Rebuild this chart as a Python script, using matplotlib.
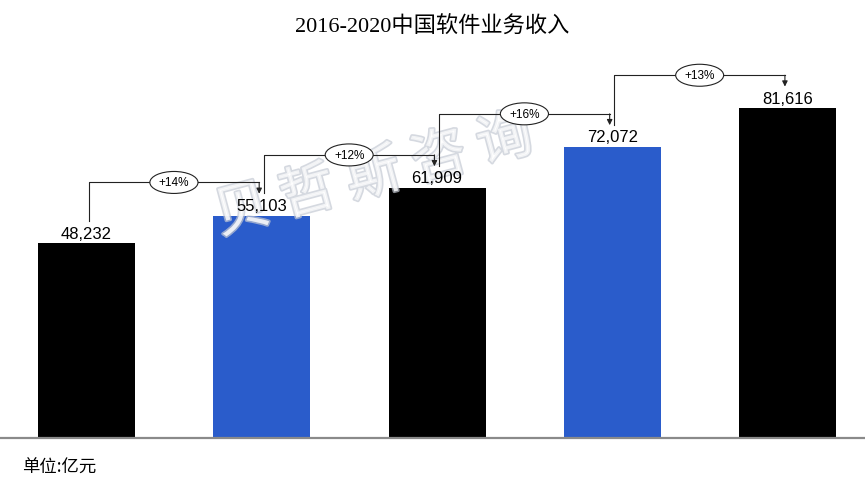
import matplotlib
matplotlib.use('Agg')
import matplotlib.pyplot as plt
import matplotlib.patheffects as pe
import numpy as np

plt.rcParams['font.family'] = ['Liberation Sans', 'Noto Sans CJK SC', 'DejaVu Sans']

# 数据
years = ['2016', '2017', '2018', '2019', '2020']
revenue = [48232, 55103, 61909, 72072, 81616]   # 亿元
colors = ['#000000', '#2a5ccb', '#000000', '#2a5ccb', '#000000']

fig = plt.figure(figsize=(8.65, 4.85), dpi=100)
ax = fig.add_axes([0, 0.094, 1, 0.782])

x = np.arange(len(years))
ax.bar(x, revenue, width=0.553, color=colors, zorder=2)
ax.set_xlim(-0.494, 4.442)
ax.set_ylim(0, 93800)

# 数值标签
for xi, v in zip(x, revenue):
    ax.text(xi, v + 700, f'{v:,}', ha='center', va='bottom', fontsize=12, zorder=4)

# 增长率括号
lc = '#222222'
for i in range(len(revenue) - 1):
    v0, v1 = revenue[i], revenue[i + 1]
    growth = round((v1 / v0 - 1) * 100)
    x0, x1 = x[i] + 0.012, x[i + 1] - 0.015
    y_top = max(v0, v1) + 8200
    y_start = v0 + 5500
    y_tip = v1 + 5400
    ax.plot([x0, x0, x1], [y_start, y_top, y_top], color=lc, lw=0.8, zorder=4)
    ax.annotate('', xy=(x1, y_tip), xytext=(x1, y_top),
                arrowprops=dict(arrowstyle='-|>', color=lc, lw=0.8,
                                mutation_scale=8, shrinkA=0, shrinkB=0),
                zorder=4)
    ax.text((x0 + x1) / 2, y_top, f'+{growth}%', ha='center', va='center',
            fontsize=8.5, zorder=5,
            bbox=dict(boxstyle='ellipse,pad=0.15', fc='white', ec=lc, lw=0.8))

# 坐标轴样式
for s in ['top', 'right', 'left']:
    ax.spines[s].set_visible(False)
ax.spines['bottom'].set_color('#8a8a8a')
ax.spines['bottom'].set_linewidth(1.6)
ax.set_xticks([])
ax.set_yticks([])

# 水印
ax.text(0.432, 0.635, '贝 哲 斯 咨 询', fontsize=40, color='white',
        ha='center', va='center', rotation=15, zorder=3,
        transform=fig.transFigure, family=['Noto Sans CJK SC'],
        alpha=0.7,
        path_effects=[pe.withStroke(linewidth=2.4, foreground='#c4c9d3')])

fig.text(0.5, 1 - 27 / 485, '2016-2020中国软件业务收入', ha='center', va='center',
         fontsize=16, family=['Liberation Serif', 'Noto Sans CJK SC'])
fig.text(22 / 865, 1 - 468 / 485, '单位:亿元', ha='left', va='center',
         fontsize=12.5, family=['Noto Sans CJK SC'])

fig.savefig('out.png', dpi=100)
